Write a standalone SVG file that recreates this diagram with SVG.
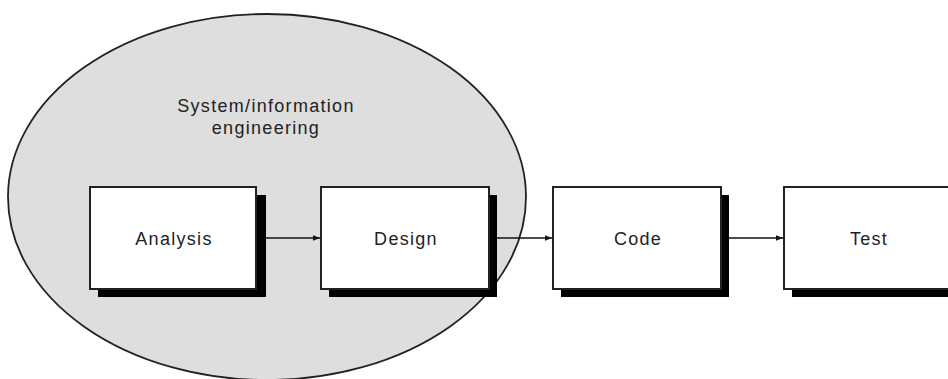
<svg xmlns="http://www.w3.org/2000/svg" width="948" height="379" viewBox="0 0 948 379">
  <style>
    .shadow { fill: #000; }
    .box { fill: #fff; stroke: #222; stroke-width: 2; }
    .label { font-family: "Liberation Sans", Arial, sans-serif; font-size: 18px; letter-spacing: 1.3px; fill: #222; text-anchor: middle; }
    .conn { stroke: #111; stroke-width: 1.6; fill: none; marker-end: url(#arrow); }
  </style>
  <defs>
    <marker id="arrow" viewBox="0 0 10 10" refX="10" refY="5" markerWidth="8" markerHeight="7" markerUnits="userSpaceOnUse" orient="auto">
      <path d="M0,1 L10,5 L0,9 Z" fill="#111"/>
    </marker>
  </defs>
  <rect width="948" height="379" fill="#fff"/>

  <!-- scope of system/information engineering -->
  <g id="scope">
    <ellipse cx="267" cy="197" rx="259" ry="183" fill="#dedede" stroke="#222" stroke-width="1.8"/>
    <text class="label" x="266" y="112">System/information</text>
    <text class="label" x="266" y="134">engineering</text>
  </g>

  <g id="analysis">
    <rect class="shadow" x="98" y="195" width="168" height="102"/>
    <rect class="box" x="90" y="187" width="166" height="102"/>
    <text class="label" x="174" y="245">Analysis</text>
  </g>

  <g id="design">
    <rect class="shadow" x="329" y="195" width="168" height="102"/>
    <rect class="box" x="321" y="187" width="168" height="102"/>
    <text class="label" x="406" y="245">Design</text>
  </g>

  <g id="code">
    <rect class="shadow" x="561" y="195" width="168" height="102"/>
    <rect class="box" x="553" y="187" width="168" height="102"/>
    <text class="label" x="638" y="245">Code</text>
  </g>

  <g id="test">
    <rect class="shadow" x="792" y="195" width="168" height="102"/>
    <rect class="box" x="784" y="187" width="168" height="102"/>
    <text class="label" x="869" y="245">Test</text>
  </g>

  <g id="connectors">
    <line class="conn" x1="266" y1="238" x2="320" y2="238"/>
    <line class="conn" x1="497" y1="238" x2="552" y2="238"/>
    <line class="conn" x1="729" y1="238" x2="783" y2="238"/>
  </g>
</svg>
